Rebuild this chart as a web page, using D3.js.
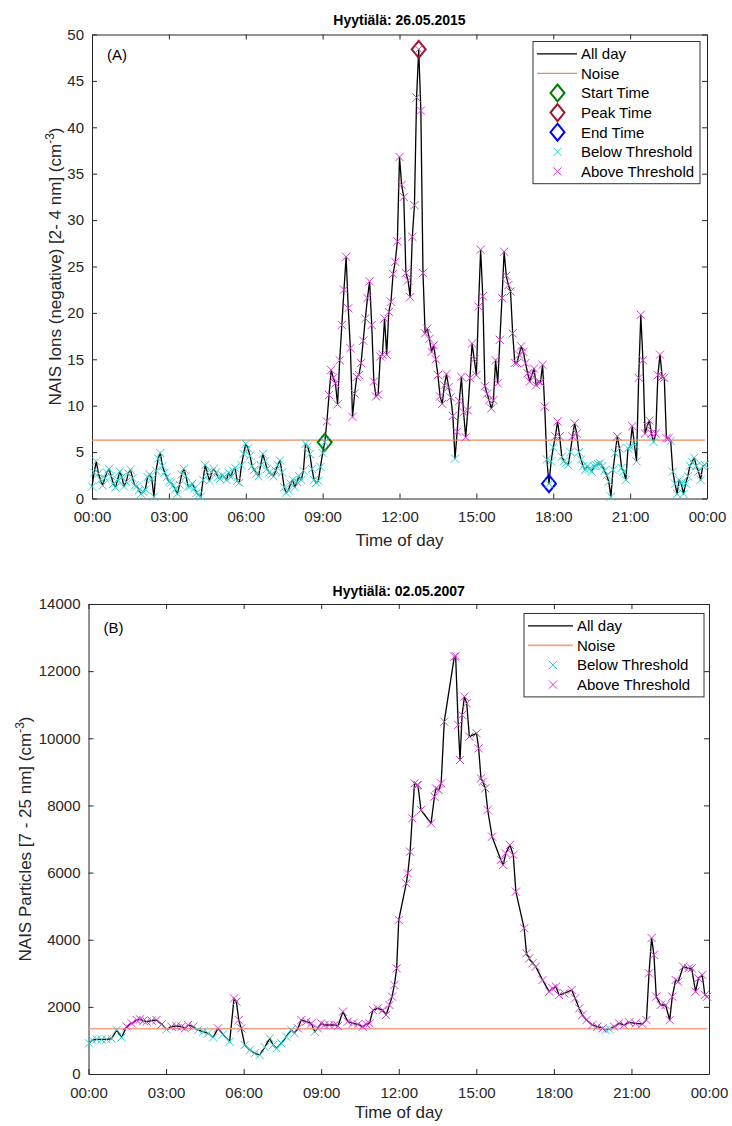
<!DOCTYPE html>
<html><head><meta charset="utf-8">
<script src="https://cdn.jsdelivr.net/npm/d3@7"></script>
<style>
body{margin:0;background:#fff}
text{font-family:"Liberation Sans",Arial,Helvetica,sans-serif}
</style>
</head><body>
<svg id="c" width="732" height="1126"></svg>
<script>
// ---------- DATA ----------
const hourTicks = [0,3,6,9,12,15,18,21,24];
const hourLabels = ["00:00","03:00","06:00","09:00","12:00","15:00","18:00","21:00","00:00"];
const ionTicks = [0,5,10,15,20,25,30,35,40,45,50];
const particleTicks = [0,2000,4000,6000,8000,10000,12000,14000];

// Panel A: NAIS negative ions 2-4 nm, 5-minute values
const ionsNight = [1.3,2.8,4.0,2.7,2.0,1.4,2.2,2.8,3.2,2.4, 1.6,1.2,2.0,2.9,2.3,1.3,1.8,2.7,3.1,2.2,
 1.4,1.3,0.9,0.5,0.7,1.0,2.3,2.6,2.1,0.2, 3.0,4.3,4.9,3.5,2.8,2.3,1.8,1.7,1.4,1.0,
 0.5,1.5,2.6,3.2,2.4,1.3,1.3,1.6,1.1,0.6, 0.4,0.2,2.0,3.6,2.8,1.9,2.8,3.2,2.8,2.3,
 2.1,2.5,2.3,2.0,2.8,2.3,3.0,3.3,1.9,1.7, 3.6,4.8,5.9,5.4,4.6,3.5,3.1,2.7,2.4,3.6,
 4.8,4.0,3.2,2.8,2.6,2.4,3.0,3.6,4.1,2.8, 1.2,0.6,0.9,1.6,2.0,1.2,1.8,2.4,2.0,3.0,
 5.9,5.6,4.8,3.2,2.0,1.7,1.9,3.4];
const ionsDay = [4.9,6.05,8.3,11.15,13.85,13.0,12.4,10.15,14.9,18.7,
 22.5,26.05,20.5,16.2,8.8,11.3,13.1,13.3,14.6,17.0,
 19.4,21.6,23.4,18.7,12.6,11.0,11.2,15.3,15.5,19.4,
 15.5,20.1,21.2,24.2,25.5,27.7,36.8,33.8,32.5,24.3,
 23.5,21.7,28.2,31.6,43.2,48.4,41.8,24.3,17.8,18.3,
 17.2,15.8,16.5,15.0,13.3,11.0,10.2,12.2,13.4,12.0,
 10.9,8.9,4.3,7.2,10.5,13.1,9.3,6.6,9.5,13.0,
 16.7,15.0,13.3,20.7,26.8,21.8,12.1,11.3,10.6,9.7,
 10.6,14.9,12.4,17.1,21.6,26.6,24.0,23.0,22.3,17.8,
 14.6,14.6,15.5,16.4,15.8,14.6,13.5,12.6,13.3,14.0,
 12.2,12.6,12.5,14.4,9.9,4.2,1.6,4.0];
const ionsEvening = [5.5,6.7,8.3,6.7,4.5,4.0,3.8,3.6,5.0,6.7,
 8.1,7.0,5.0,4.2,3.5,3.1,3.5,3.2,2.9,3.5,
 3.6,3.7,3.8,3.5,3.0,2.5,1.8,0.2,3.1,4.9,
 6.7,5.4,3.3,2.9,2.0,5.4,5.6,7.8,5.8,4.0,
 13.0,19.8,14.9,7.0,7.8,8.4,7.0,6.1,7.0,13.3,
 15.5,13.1,13.0,6.5,6.5,6.2,2.9,1.6,0.5,2.0,
 1.6,0.5,1.6,2.4,3.5,3.9,4.4,3.5,2.9,2.0,
 3.5,3.6];
const ionStepMinutes = 5;
const ionNoise = 6.3;
const ionStartIndex = 109, ionPeakIndex = 153, ionEndIndex = 214;

// Panel B: NAIS particles 7-25 nm
const particleHours = [0.02,0.15,0.32,0.51,0.70,0.89,1.09,1.28,1.47,1.67,1.86,1.99,2.12,2.25,2.44,2.63,2.83,3.02,3.21,3.40,
 3.60,3.73,3.85,4.05,4.24,4.43,4.63,4.82,5.01,5.20,5.46,5.63,5.72,5.81,5.91,6.04,6.24,6.43,6.62,6.82,
 7.01,7.14,7.27,7.46,7.65,7.84,7.97,8.10,8.23,8.42,8.62,8.75,8.87,9.00,9.13,9.32,9.52,9.65,9.84,10.03,
 10.23,10.42,10.61,10.74,10.87,11.00,11.19,11.38,11.51,11.64,11.74,11.83,11.92,12.00,12.29,12.35,12.44,12.52,12.61,12.70,
 12.74,12.86,13.25,13.38,13.44,13.55,13.64,13.76,14.15,14.20,14.30,14.37,14.45,14.54,14.63,14.73,15.01,15.09,15.18,15.25,
 15.35,15.44,15.61,15.95,16.04,16.14,16.30,16.43,16.53,16.85,16.94,17.05,17.17,17.30,17.56,17.82,17.95,18.08,18.20,18.40,
 18.69,18.82,18.98,19.10,19.26,19.49,19.68,19.88,20.00,20.15,20.33,20.52,20.71,20.91,21.16,21.42,21.58,21.68,21.78,21.87,
 21.96,22.13,22.32,22.48,22.58,22.71,22.81,23.00,23.20,23.33,23.48,23.59,23.74,23.84,23.93];
const particleValues = [914,1013,1030,1030,1030,1050,1311,1090,1410,1509,1609,1630,1590,1560,1590,1609,1480,1330,1410,1430,
 1410,1360,1460,1410,1311,1261,1211,1090,1360,1180,963,2254,2155,1609,1360,864,715,616,566,800,
 1062,864,765,914,1112,1311,1211,1360,1609,1560,1509,1261,1360,1509,1460,1460,1460,1430,1857,1560,
 1509,1480,1410,1480,1509,1906,1956,1906,1757,2055,2304,2652,3148,4588,5680,5978,6623,7616,8658,8600,
 8609,7864,7467,8261,8509,8460,8658,10495,12431,12450,10400,9354,10694,11240,11041,10048,10147,9701,8807,8708,
 8509,7864,7070,6375,6226,6574,6822,6524,5432,4340,3595,3446,3297,3198,2800,2453,2552,2602,2353,2403,
 2503,2254,1956,1757,1608,1460,1410,1360,1311,1340,1410,1509,1460,1540,1509,1490,1608,3000,4050,3550,
 2304,2055,2055,1608,2304,2800,2750,3198,3148,3148,2453,2850,2950,2353,2304];
const particleNoise = 1350;

// ---------- DRAWING ----------
const svg = d3.select("#c");
svg.append("rect").attr("width",732).attr("height",1126).attr("fill","#fff");
const axisColor = "#262626";
const COL = {line:"#000", noise:"#ee8a5e", below:"#2cd2d2", above:"#d93ad9",
             start:"#008000", peak:"#a2142f", end:"#0000ff"};
const CROSS = 4.1, CROSSW = 1;

const crossPath = s => `M${-s},${-s}L${s},${s}M${-s},${s}L${s},${-s}`;
const diamondPath = (w,h) => `M0,${-h}L${w},0L0,${h}L${-w},0Z`;

function panel(o){
  const x = d3.scaleLinear().domain([0,24]).range([o.x0,o.x1]);
  const y = d3.scaleLinear().domain([0,o.ymax]).range([o.y0,o.y1]);
  const g = svg.append("g");

  const styleAxis = sel => {
    sel.select(".domain").attr("stroke",axisColor).attr("stroke-width",1);
    sel.selectAll(".tick line").attr("stroke",axisColor).attr("stroke-width",1);
    sel.selectAll(".tick text").attr("fill",axisColor).attr("font-size",15)
       .attr("font-family",'"Liberation Sans",Arial,sans-serif');
  };
  g.append("g").attr("transform",`translate(0,${o.y0})`)
    .call(d3.axisBottom(x).tickValues(hourTicks).tickFormat((d,i)=>hourLabels[i])
      .tickSizeInner(-5).tickSizeOuter(0).tickPadding(13)).call(styleAxis);
  g.append("g").attr("transform",`translate(0,${o.y1})`)
    .call(d3.axisTop(x).tickValues(hourTicks).tickFormat("")
      .tickSizeInner(-5).tickSizeOuter(0)).call(styleAxis);
  g.append("g").attr("transform",`translate(${o.x0},0)`)
    .call(d3.axisLeft(y).tickValues(o.yticks).tickFormat(d3.format("d"))
      .tickSizeInner(-5).tickSizeOuter(0).tickPadding(8)).call(styleAxis);
  g.append("g").attr("transform",`translate(${o.x1},0)`)
    .call(d3.axisRight(y).tickValues(o.yticks).tickFormat("")
      .tickSizeInner(-5).tickSizeOuter(0)).call(styleAxis);

  // data line
  g.append("path").datum(o.data)
    .attr("fill","none").attr("stroke",COL.line).attr("stroke-width",1.3).attr("stroke-linejoin","round")
    .attr("d", d3.line().x(d=>x(d.t)).y(d=>y(d.v)));
  // noise
  g.append("line").attr("x1",x(o.data[0].t)).attr("x2",x(o.data[o.data.length-1].t))
    .attr("y1",y(o.noise)).attr("y2",y(o.noise))
    .attr("stroke",o.noiseColor).attr("stroke-width",o.noiseWidth);
  // event diamonds
  (o.events||[]).forEach(ev=>{
    const d = o.data[ev.i];
    g.append("path").attr("d",diamondPath(7,8.5))
      .attr("transform",`translate(${x(d.t)},${y(d.v)})`)
      .attr("fill","none").attr("stroke",ev.c).attr("stroke-width",2);
  });
  // markers
  const below = o.data.filter(d=>d.v < o.noise), above = o.data.filter(d=>d.v >= o.noise);
  [[below,COL.below],[above,COL.above]].forEach(([arr,c])=>{
    g.append("g").selectAll("path").data(arr).join("path")
      .attr("d",crossPath(CROSS))
      .attr("transform",d=>`translate(${x(d.t)},${y(d.v)})`)
      .attr("fill","none").attr("stroke",c).attr("stroke-width",CROSSW);
  });

  // title
  g.append("text").attr("x",(o.x0+o.x1)/2).attr("y",o.titleY).attr("text-anchor","middle")
    .attr("font-size",14).attr("font-weight","bold").attr("fill","#000").text(o.title);
  // panel letter
  g.append("text").attr("x",o.x0+15).attr("y",o.letterY).attr("font-size",15).attr("fill","#000").text(o.letter);
  // x label
  g.append("text").attr("x",(o.x0+o.x1)/2).attr("y",o.xlabY).attr("text-anchor","middle")
    .attr("font-size",17).attr("fill",axisColor).text("Time of day");
  // y label
  const yl = g.append("text").attr("transform",`translate(${o.ylabX},${(o.y0+o.y1)/2}) rotate(-90)`)
    .attr("text-anchor","middle").attr("font-size",17).attr("fill",axisColor);
  yl.append("tspan").text(o.ylabel + " (cm");
  yl.append("tspan").attr("font-size",12).attr("dy",-7).text("-3");
  yl.append("tspan").attr("dy",7).text(")");

  // legend
  const L = o.legend;
  const lg = g.append("g");
  lg.append("rect").attr("x",L.x).attr("y",L.y).attr("width",L.w).attr("height",L.items.length*L.dy+L.pad*2)
    .attr("fill","#fff").attr("stroke","#333").attr("stroke-width",1);
  L.items.forEach((it,k)=>{
    const cy = L.y + L.pad + L.dy*(k+0.5);
    const cx = L.x + L.mx;
    if(it.type==="line"){
      lg.append("line").attr("x1",L.x+4).attr("x2",L.x+L.tx-4).attr("y1",cy).attr("y2",cy)
        .attr("stroke",it.c).attr("stroke-width",it.w);
    } else if(it.type==="diamond"){
      lg.append("path").attr("d",diamondPath(7,8.5)).attr("transform",`translate(${cx},${cy})`)
        .attr("fill","none").attr("stroke",it.c).attr("stroke-width",2);
    } else {
      lg.append("path").attr("d",crossPath(CROSS)).attr("transform",`translate(${cx},${cy})`)
        .attr("fill","none").attr("stroke",it.c).attr("stroke-width",CROSSW);
    }
    lg.append("text").attr("x",L.x+L.tx).attr("y",cy+5.3).attr("font-size",15).attr("fill","#000").text(it.label);
  });
}

const ionSeries = ionsNight.concat(ionsDay, ionsEvening)
  .map((v,i)=>({t:i*ionStepMinutes/60, v}));
const particleSeries = particleHours.map((t,i)=>({t, v:particleValues[i]}));

panel({
  x0:92, x1:707, y0:498.5, y1:34.5, ymax:50, yticks:ionTicks,
  data:ionSeries, noise:ionNoise, noiseColor:"#ee8a5e", noiseWidth:1.2,
  events:[{i:ionStartIndex,c:COL.start},{i:ionPeakIndex,c:COL.peak},{i:ionEndIndex,c:COL.end}],
  title:"Hyytiälä: 26.05.2015", titleY:25, letter:"(A)", letterY:60, xlabY:546, ylabX:61,
  ylabel:"NAIS Ions (negative) [2- 4 nm]",
  legend:{x:533, y:41.5, w:167, dy:19.6, pad:2.5, tx:48, mx:24.5, items:[
    {type:"line",c:"#000",w:1.3,label:"All day"},
    {type:"line",c:"#ee8a5e",w:1.2,label:"Noise"},
    {type:"diamond",c:COL.start,label:"Start Time"},
    {type:"diamond",c:COL.peak,label:"Peak Time"},
    {type:"diamond",c:COL.end,label:"End Time"},
    {type:"cross",c:COL.below,label:"Below Threshold"},
    {type:"cross",c:COL.above,label:"Above Threshold"}]}
});

panel({
  x0:88.5, x1:709, y0:1074, y1:604, ymax:14000, yticks:particleTicks,
  data:particleSeries, noise:particleNoise, noiseColor:"#f2a386", noiseWidth:1.6,
  events:[],
  title:"Hyytiälä: 02.05.2007", titleY:596, letter:"(B)", letterY:633, xlabY:1118, ylabX:31,
  ylabel:"NAIS Particles [7 - 25 nm]",
  legend:{x:524, y:613.5, w:180, dy:19.6, pad:2.5, tx:53, mx:29, items:[
    {type:"line",c:"#000",w:1.3,label:"All day"},
    {type:"line",c:"#f2a386",w:1.6,label:"Noise"},
    {type:"cross",c:COL.below,label:"Below Threshold"},
    {type:"cross",c:COL.above,label:"Above Threshold"}]}
});
</script>
</body></html>
